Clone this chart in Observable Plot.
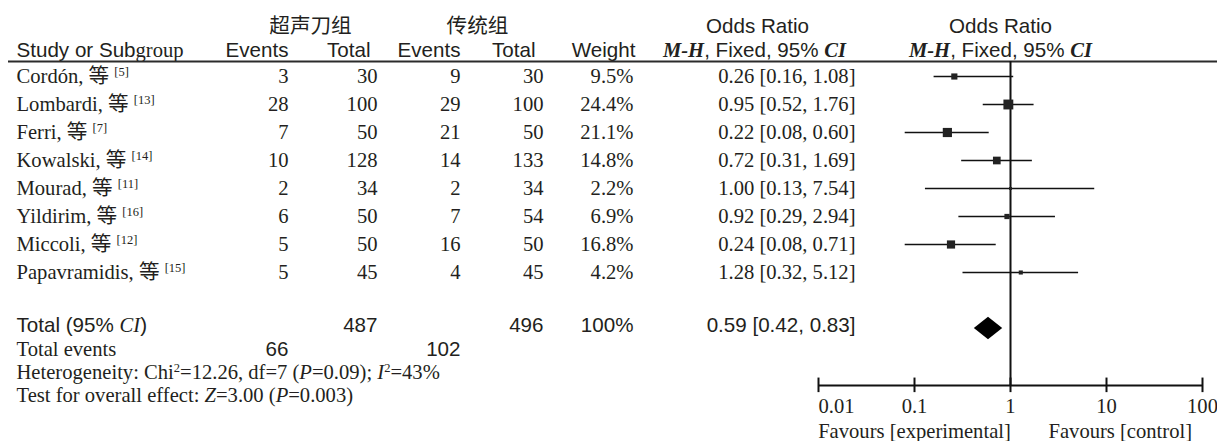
<!DOCTYPE html>
<html>
<head>
<meta charset="utf-8">
<script src="https://cdn.jsdelivr.net/npm/d3@7"></script>
<script src="https://cdn.jsdelivr.net/npm/@observablehq/plot@0.6"></script>
<style>
  html, body { margin: 0; padding: 0; background: #fff; overflow: hidden; }
  #chart { position: relative; width: 1217px; height: 441px; }
  #chart svg { position: absolute; left: 0; top: 0; }
</style>
</head>
<body>
<div id="chart"></div>
<script>
// ---- study data ----
const studyNames   = ["Cordón", "Lombardi", "Ferri", "Kowalski", "Mourad", "Yildirim", "Miccoli", "Papavramidis"];
const refNumbers   = [5, 13, 7, 14, 11, 16, 12, 15];
const expEvents    = [3, 28, 7, 10, 2, 6, 5, 5];
const expTotals    = [30, 100, 50, 128, 34, 50, 50, 45];
const ctrlEvents   = [9, 29, 21, 14, 2, 7, 16, 4];
const ctrlTotals   = [30, 100, 50, 133, 34, 54, 50, 45];
const weights      = [9.5, 24.4, 21.1, 14.8, 2.2, 6.9, 16.8, 4.2];
const oddsRatios   = [0.26, 0.95, 0.22, 0.72, 1.00, 0.92, 0.24, 1.28];
const ciLower      = [0.16, 0.52, 0.08, 0.31, 0.13, 0.29, 0.08, 0.32];
const ciUpper      = [1.08, 1.76, 0.60, 1.69, 7.54, 2.94, 0.71, 5.12];

// ---- pooled result ----
const pooledOR     = 0.59;
const pooledLower  = 0.42;
const pooledUpper  = 0.83;
const pooledWeight = 100;
const totalExpN    = 487;
const totalCtrlN   = 496;
const totalExpEv   = 66;
const totalCtrlEv  = 102;

// ---- axis ----
const axisTicks    = [0.01, 0.1, 1, 10, 100];

// ---- header / footer texts ----
const groupLabels  = ["超声刀组", "传统组"];
const heterogeneityText = "Heterogeneity: Chi^2^=12.26, df=7 (_P_=0.09); _I_^2^=43%";
const overallText  = "Test for overall effect: _Z_=3.00 (_P_=0.003)";
const favourLabels = ["Favours [experimental]", "Favours [control]"];

// ---- styling ----
const SANS  = "'Liberation Sans', Arial, Helvetica, sans-serif";
const SERIF = "'Liberation Serif', 'Times New Roman', Times, 'Noto Sans CJK SC', serif";
const CJK   = "'Noto Sans CJK SC', 'Noto Sans CJK TC', sans-serif";
const INK   = "#231f20";
const FS    = 20.6;

// column anchors (px) of the table
const COL = {
  name: 16, expEv: 288, expTot: 377, ctrlEv: 460, ctrlTot: 543, weight: 633, or: 855,
  expHead: 310, ctrlHead: 477, expTotHead: 370, ctrlTotHead: 535, orHead: 757, plotHead: 1000,
  ruleStart: 8, ruleEnd: 1217
};
// vertical layout in row units (study i sits at row i)
const ROW = {
  head1: -1.8, head2: -0.94, rule: -0.54,
  total: 9, totalText: 8.9, totalEvents: 9.75, hetero: 10.57, overall: 11.39,
  axis: 11.04, tickLabel: 11.79, favours: 12.68
};

const W = 1217, H = 441;
const yScale = { type: "linear", domain: [-76 / 28, (H - 76) / 28], range: [0, H] };

const rows = studyNames.map((name, i) => ({
  i,
  label: `${name}, 等 ^[${refNumbers[i]}]^`,
  expEv: String(expEvents[i]),
  expTot: String(expTotals[i]),
  ctrlEv: String(ctrlEvents[i]),
  ctrlTot: String(ctrlTotals[i]),
  weight: weights[i].toFixed(1) + "%",
  or: oddsRatios[i],
  lo: ciLower[i],
  hi: ciUpper[i],
  orText: `${oddsRatios[i].toFixed(2)} [${ciLower[i].toFixed(2)}, ${ciUpper[i].toFixed(2)}]`,
  w: weights[i]
}));

const txt = (value, x, y, opts = {}) =>
  Plot.text([value], { x, y, text: d => d, fill: INK, fontSize: FS, ...opts });

// ---- table of studies ----
const table = Plot.plot({
  width: W, height: H,
  margin: 0,
  x: { type: "linear", domain: [0, W], range: [0, W], axis: null },
  y: { ...yScale, axis: null },
  marks: [
    // header
    txt(groupLabels[0], COL.expHead, ROW.head1, { fontFamily: CJK }),
    txt(groupLabels[1], COL.ctrlHead, ROW.head1, { fontFamily: CJK }),
    txt("Odds Ratio", COL.orHead, ROW.head1, { fontFamily: SANS }),
    txt("Odds Ratio", COL.plotHead, ROW.head1, { fontFamily: SANS }),
    txt("Study or Sub~group~", COL.name, ROW.head2, { fontFamily: SANS, textAnchor: "start" }),
    txt("Events", COL.expEv, ROW.head2, { fontFamily: SANS, textAnchor: "end" }),
    txt("Total", COL.expTotHead, ROW.head2, { fontFamily: SANS, textAnchor: "end" }),
    txt("Events", COL.ctrlEv, ROW.head2, { fontFamily: SANS, textAnchor: "end" }),
    txt("Total", COL.ctrlTotHead, ROW.head2, { fontFamily: SANS, textAnchor: "end" }),
    txt("Weight", COL.weight + 2, ROW.head2, { fontFamily: SANS, textAnchor: "end" }),
    txt("*M-H*, Fixed, 95% *CI*", COL.orHead - 3, ROW.head2, { fontFamily: SANS }),
    txt("*M-H*, Fixed, 95% *CI*", COL.plotHead, ROW.head2, { fontFamily: SANS }),
    Plot.ruleY([ROW.rule], { x1: COL.ruleStart, x2: COL.ruleEnd, stroke: "#2b2b2b", strokeWidth: 2 }),

    // study rows
    Plot.text(rows, { x: COL.name, y: "i", text: "label", textAnchor: "start", fontFamily: SERIF, fontSize: FS, fill: INK }),
    Plot.text(rows, { x: COL.expEv, y: "i", text: "expEv", textAnchor: "end", fontFamily: SERIF, fontSize: FS, fill: INK }),
    Plot.text(rows, { x: COL.expTot, y: "i", text: "expTot", textAnchor: "end", fontFamily: SERIF, fontSize: FS, fill: INK }),
    Plot.text(rows, { x: COL.ctrlEv, y: "i", text: "ctrlEv", textAnchor: "end", fontFamily: SERIF, fontSize: FS, fill: INK }),
    Plot.text(rows, { x: COL.ctrlTot, y: "i", text: "ctrlTot", textAnchor: "end", fontFamily: SERIF, fontSize: FS, fill: INK }),
    Plot.text(rows, { x: COL.weight, y: "i", text: "weight", textAnchor: "end", fontFamily: SERIF, fontSize: FS, fill: INK }),
    Plot.text(rows, { x: COL.or, y: "i", text: "orText", textAnchor: "end", fontFamily: SERIF, fontSize: FS, fill: INK }),

    // totals
    txt("Total (95% _CI_)", COL.name, ROW.totalText, { fontFamily: SANS, textAnchor: "start" }),
    txt(String(totalExpN), COL.expTot, ROW.totalText, { fontFamily: SANS, textAnchor: "end" }),
    txt(String(totalCtrlN), COL.ctrlTot, ROW.totalText, { fontFamily: SANS, textAnchor: "end" }),
    txt(pooledWeight + "%", COL.weight, ROW.totalText, { fontFamily: SANS, textAnchor: "end" }),
    txt(`${pooledOR.toFixed(2)} [${pooledLower.toFixed(2)}, ${pooledUpper.toFixed(2)}]`, COL.or, ROW.totalText, { fontFamily: SANS, textAnchor: "end" }),
    txt("Total events", COL.name, ROW.totalEvents, { fontFamily: SERIF, textAnchor: "start" }),
    txt(String(totalExpEv), COL.expEv, ROW.totalEvents, { fontFamily: SANS, textAnchor: "end" }),
    txt(String(totalCtrlEv), COL.ctrlEv, ROW.totalEvents, { fontFamily: SANS, textAnchor: "end" }),
    txt(heterogeneityText, COL.name, ROW.hetero, { fontFamily: SERIF, textAnchor: "start" }),
    txt(overallText, COL.name, ROW.overall, { fontFamily: SERIF, textAnchor: "start" })
  ]
});

// ---- forest plot on a log odds-ratio axis ----
const diamond = [
  { x: pooledLower, y1: ROW.total, y2: ROW.total },
  { x: pooledOR, y1: ROW.total - 0.4, y2: ROW.total + 0.4 },
  { x: pooledUpper, y1: ROW.total, y2: ROW.total }
];

const forest = Plot.plot({
  width: W, height: H,
  margin: 0,
  x: { type: "log", domain: [0.01, 100], range: [818, 1202], axis: null },
  y: { ...yScale, axis: null },
  r: { type: "sqrt", domain: [0, 25], range: [0, 5.64] },
  marks: [
    // line of no effect
    Plot.ruleX([1], { y1: ROW.rule, y2: ROW.axis, stroke: "#111", strokeWidth: 2 }),
    // confidence intervals
    Plot.ruleY(rows, { y: "i", x1: "lo", x2: "hi", stroke: "#111", strokeWidth: 1.6 }),
    // point estimates, area proportional to weight
    Plot.dot(rows, { x: "or", y: "i", r: "w", symbol: "square", fill: "#222", stroke: null }),
    // pooled estimate
    Plot.areaY(diamond, { x: "x", y1: "y1", y2: "y2", fill: "#000", curve: "linear" }),
    // axis
    Plot.ruleY([ROW.axis], { x1: axisTicks[0], x2: axisTicks[axisTicks.length - 1], stroke: "#111", strokeWidth: 2 }),
    Plot.ruleX(axisTicks, { x: d => d, y1: ROW.axis - 0.27, y2: ROW.axis + 0.25, stroke: "#111", strokeWidth: 2 }),
    Plot.text(axisTicks.slice(0, 1), { x: d => d, y: ROW.tickLabel, text: d => String(d), textAnchor: "start", fontFamily: SERIF, fontSize: FS, fill: INK }),
    Plot.text(axisTicks.slice(1), { x: d => d, y: ROW.tickLabel, text: d => String(d), fontFamily: SERIF, fontSize: FS, fill: INK }),
    Plot.text([favourLabels[0]], { x: 0.1, y: ROW.favours, text: d => d, fontFamily: SERIF, fontSize: FS, fill: INK }),
    Plot.text([favourLabels[1]], { x: 1, y: ROW.favours, text: d => d, dx: 38, textAnchor: "start", fontFamily: SERIF, fontSize: FS, fill: INK })
  ]
});

// Inline markup inside text marks:
//   *..* bold italic serif, _.._ italic serif, ^..^ superscript, ~..~ serif
function applyMarkup(svg) {
  const NS = "http://www.w3.org/2000/svg";
  svg.querySelectorAll("text").forEach(t => {
    if (t.querySelector("tspan")) return;
    const s = t.textContent;
    if (!/[*_^~]/.test(s)) return;
    t.textContent = "";
    const st = { bold: false, italic: false, sup: false, serif: false };
    let buf = "", raised = false;
    const flush = () => {
      if (!buf) return;
      const ts = document.createElementNS(NS, "tspan");
      ts.textContent = buf;
      if (st.bold || st.italic || st.serif) ts.setAttribute("font-family", SERIF);
      if (st.italic || st.bold) ts.setAttribute("font-style", "italic");
      if (st.bold) ts.setAttribute("font-weight", "bold");
      if (st.sup && !raised) { ts.setAttribute("font-size", 12.5); ts.setAttribute("dy", -7); raised = true; }
      else if (st.sup) ts.setAttribute("font-size", 12.5);
      else if (raised) { ts.setAttribute("dy", 7); raised = false; }
      t.appendChild(ts);
      buf = "";
    };
    for (const ch of s) {
      if (ch === "*") { flush(); st.bold = !st.bold; }
      else if (ch === "_") { flush(); st.italic = !st.italic; }
      else if (ch === "^") { flush(); st.sup = !st.sup; }
      else if (ch === "~") { flush(); st.serif = !st.serif; }
      else buf += ch;
    }
    flush();
  });
}
applyMarkup(table);
applyMarkup(forest);

const host = document.getElementById("chart");
host.appendChild(table);
host.appendChild(forest);
</script>
</body>
</html>
